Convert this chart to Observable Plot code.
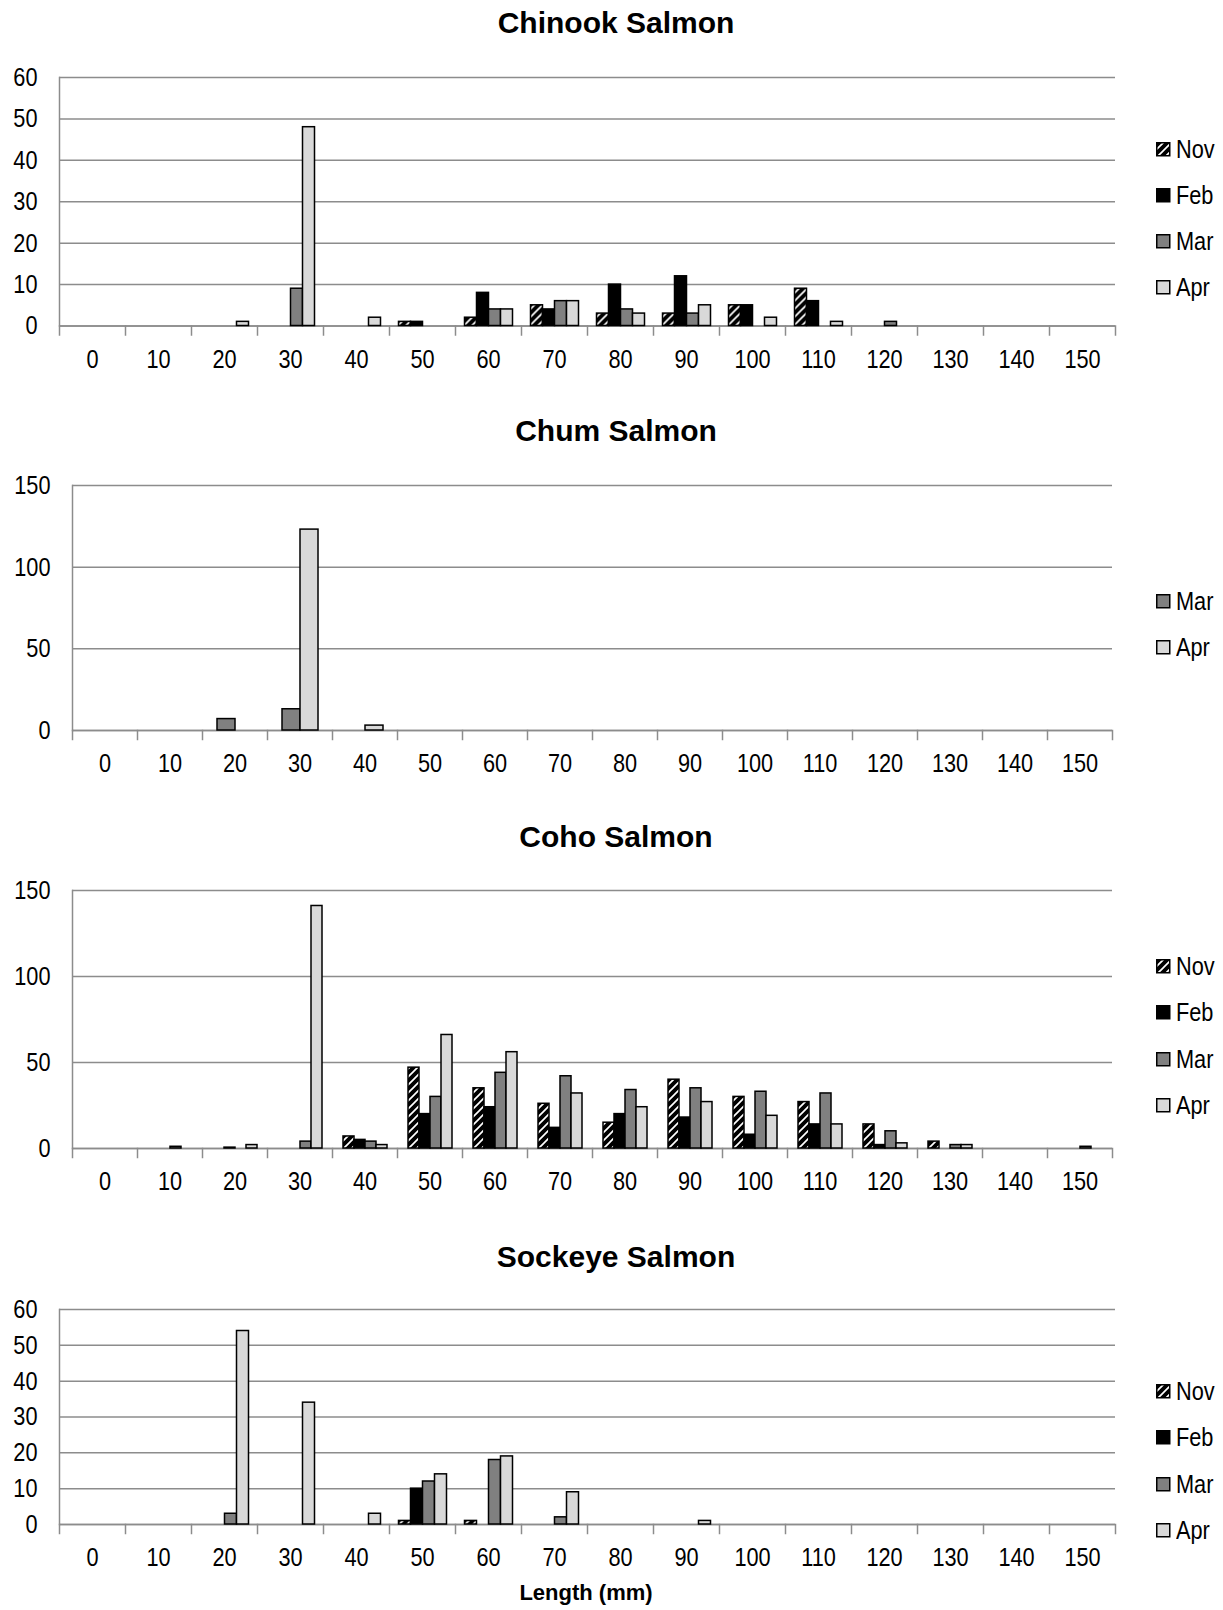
<!DOCTYPE html>
<html>
<head>
<meta charset="utf-8">
<script src="https://cdn.jsdelivr.net/npm/d3@7"></script>
<script src="https://cdn.jsdelivr.net/npm/@observablehq/plot@0.6"></script>
<style>
  html, body { margin: 0; padding: 0; background: #fff; }
  #page { position: relative; width: 1223px; height: 1610px; overflow: hidden; background: #fff; }
  .title { position: absolute; left: 0; width: 1232px; text-align: center; height: 36px; line-height: 36px;
           font-family: "Liberation Sans", Arial, sans-serif; font-weight: bold; font-size: 30px; color: #000; }
  .axis-title { position: absolute; left: 486px; width: 200px; text-align: center; height: 30px; line-height: 30px;
           font-family: "Liberation Sans", Arial, sans-serif; font-weight: bold; font-size: 22px; color: #000; }
  .legend-item { position: absolute; left: 1156px; height: 30px; display: flex; align-items: center;
           font-family: "Liberation Sans", Arial, sans-serif; font-size: 26.5px; color: #000; }
  .legend-item svg { margin-right: 5px; }
  .legend-item span { display: inline-block; transform: scaleX(0.82); transform-origin: left center; }
</style>
</head>
<body>
<div id="page">
  <svg width="0" height="0" style="position:absolute">
    <defs>
      <pattern id="hatch-nov" patternUnits="userSpaceOnUse" width="8" height="8">
        <rect width="8" height="8" fill="#000"></rect>
        <path d="M-2,2 L2,-2 M0,8 L8,0 M6,10 L10,6" stroke="#fff" stroke-width="1.7"></path>
      </pattern>
    </defs>
  </svg>
</div>
<script>
// Length classes (mm) and sampling months
const lengths = [0, 10, 20, 30, 40, 50, 60, 70, 80, 90, 100, 110, 120, 130, 140, 150];
const months = ["Nov", "Feb", "Mar", "Apr"];

// Chinook salmon counts per length class
const chinookNov = [0, 0, 0, 0, 0, 1, 2, 5, 3, 3, 5, 9, 0, 0, 0, 0];
const chinookFeb = [0, 0, 0, 0, 0, 1, 8, 4, 10, 12, 5, 6, 0, 0, 0, 0];
const chinookMar = [0, 0, 0, 9, 0, 0, 4, 6, 4, 3, 0, 0, 1, 0, 0, 0];
const chinookApr = [0, 0, 1, 48, 2, 0, 4, 6, 3, 5, 2, 1, 0, 0, 0, 0];

// Chum salmon counts (only March and April samples)
const chumMar = [0, 0, 7, 13, 0, 0, 0, 0, 0, 0, 0, 0, 0, 0, 0, 0];
const chumApr = [0, 0, 0, 123, 3, 0, 0, 0, 0, 0, 0, 0, 0, 0, 0, 0];

// Coho salmon counts
const cohoNov = [0, 0, 0, 0, 7, 47, 35, 26, 15, 40, 30, 27, 14, 4, 0, 0];
const cohoFeb = [0, 0, 0.5, 0, 5, 20, 24, 12, 20, 18, 8, 14, 2, 0, 0, 0];
const cohoMar = [0, 1, 0, 4, 4, 30, 44, 42, 34, 35, 33, 32, 10, 2, 0, 1];
const cohoApr = [0, 0, 2, 141, 2, 66, 56, 32, 24, 27, 19, 14, 3, 2, 0, 0];

// Sockeye salmon counts
const sockeyeNov = [0, 0, 0, 0, 0, 1, 1, 0, 0, 0, 0, 0, 0, 0, 0, 0];
const sockeyeFeb = [0, 0, 0, 0, 0, 10, 0, 0, 0, 0, 0, 0, 0, 0, 0, 0];
const sockeyeMar = [0, 0, 3, 0, 0, 12, 18, 2, 0, 0, 0, 0, 0, 0, 0, 0];
const sockeyeApr = [0, 0, 54, 34, 3, 14, 19, 9, 0, 1, 0, 0, 0, 0, 0, 0];

// Y tick values
const ticks60 = [0, 10, 20, 30, 40, 50, 60];
const ticks150 = [0, 50, 100, 150];

// Fill for each month (Nov uses the diagonal hatch pattern)
const monthFills = ["url(#hatch-nov)", "#000000", "#808080", "#d9d9d9"];

const species = [
  {title: "Chinook Salmon", months: months, series: [chinookNov, chinookFeb, chinookMar, chinookApr], yMax: 60, ticks: ticks60},
  {title: "Chum Salmon", months: ["Mar", "Apr"], series: [chumMar, chumApr], yMax: 150, ticks: ticks150},
  {title: "Coho Salmon", months: months, series: [cohoNov, cohoFeb, cohoMar, cohoApr], yMax: 150, ticks: ticks150},
  {title: "Sockeye Salmon", months: months, series: [sockeyeNov, sockeyeFeb, sockeyeMar, sockeyeApr], yMax: 60, ticks: ticks60}
];

// Page layout for each panel: frame top, zero line, left edge, title and legend rows
const layout = [
  {top: 77, zero: 325.5, left: 58.5, titleY: 23, legendY: [149, 195, 241, 287.5]},
  {top: 485, zero: 730, left: 70, titleY: 431, legendY: [601, 647]},
  {top: 890, zero: 1148, left: 70, titleY: 837, legendY: [966, 1012.5, 1059, 1105]},
  {top: 1309, zero: 1524, left: 58.5, titleY: 1257, legendY: [1391.5, 1437.7, 1484, 1530]}
];

const page = document.getElementById("page");
const gray = "#8c8c8c";
const plotRight = 1114.5;
const squeeze = 0.82; // horizontal condensing of tick labels

species.forEach((sp, k) => {
  const L = layout[k];
  const rows = [];
  lengths.forEach((len, i) => {
    sp.months.forEach((m, j) => rows.push({length: len, month: m, count: sp.series[j][i]}));
  });
  const bars = rows.filter(d => d.count > 0);

  const marginTop = 20, marginBottom = 60;
  const plotH = L.zero - L.top;

  const chart = Plot.plot({
    width: 1223,
    height: marginTop + plotH + marginBottom,
    marginTop, marginBottom,
    marginLeft: L.left,
    marginRight: 1223 - plotRight,
    style: {fontFamily: '"Liberation Sans", Arial, sans-serif', fontSize: "26.5px", color: "#000", background: "transparent", overflow: "visible"},
    fx: {domain: lengths, padding: 0, axis: null, label: null},
    x: {domain: sp.months, paddingInner: 0, paddingOuter: 0.72, axis: null},
    y: {domain: [0, sp.yMax], axis: null},
    color: {domain: months, range: monthFills},
    marks: [
      Plot.gridY(sp.ticks, {stroke: gray, strokeOpacity: 1, strokeWidth: 1.5}),
      Plot.ruleY(lengths, {fx: d => d, y: 0, stroke: gray, strokeWidth: 1.5}),
      Plot.frame({anchor: "left", facetAnchor: "left", stroke: gray, strokeWidth: 1.5}),
      Plot.frame({anchor: "left", insetTop: plotH, insetBottom: -9, stroke: gray, strokeWidth: 1.5}),
      Plot.frame({anchor: "right", facetAnchor: "right", insetTop: plotH, insetBottom: -9, stroke: gray, strokeWidth: 1.5}),
      Plot.barY(bars, {fx: "length", x: "month", y: "count", fill: "month", stroke: "#000", strokeWidth: 1.5, inset: 0}),
      Plot.axisY({ticks: sp.ticks, tickSize: 0, tickPadding: 22, label: null, fontSize: 26.5}),
      Plot.axisFx({anchor: "bottom", tickSize: 0, tickPadding: 23, label: null, fontSize: 26.5})
    ]
  });

  // condense the tick labels horizontally about their anchor points
  d3.select(chart).selectAll("text").each(function () {
    const t = this.getAttribute("transform");
    if (t) {
      this.setAttribute("transform", `${t} scale(${squeeze},1)`);
    } else {
      const x = +this.getAttribute("x") || 0;
      this.setAttribute("transform", `translate(${x},0) scale(${squeeze},1) translate(${-x},0)`);
    }
  });

  chart.style.position = "absolute";
  chart.style.left = "0px";
  chart.style.top = (L.top - marginTop) + "px";
  page.appendChild(chart);

  const title = document.createElement("div");
  title.className = "title";
  title.style.top = (L.titleY - 18) + "px";
  title.textContent = sp.title;
  page.appendChild(title);

  sp.months.forEach((m, j) => {
    const item = document.createElement("div");
    item.className = "legend-item";
    item.style.top = (L.legendY[j] - 15) + "px";
    const fill = monthFills[months.indexOf(m)];
    item.innerHTML = `<svg width="15" height="15"><rect x="0.75" y="0.75" width="13" height="13" fill="${fill}" stroke="#000" stroke-width="1.5"></rect></svg><span>${m}</span>`;
    page.appendChild(item);
  });
});

const axisTitle = document.createElement("div");
axisTitle.className = "axis-title";
axisTitle.style.top = (1593 - 15) + "px";
axisTitle.textContent = "Length (mm)";
page.appendChild(axisTitle);
</script>
</body>
</html>
